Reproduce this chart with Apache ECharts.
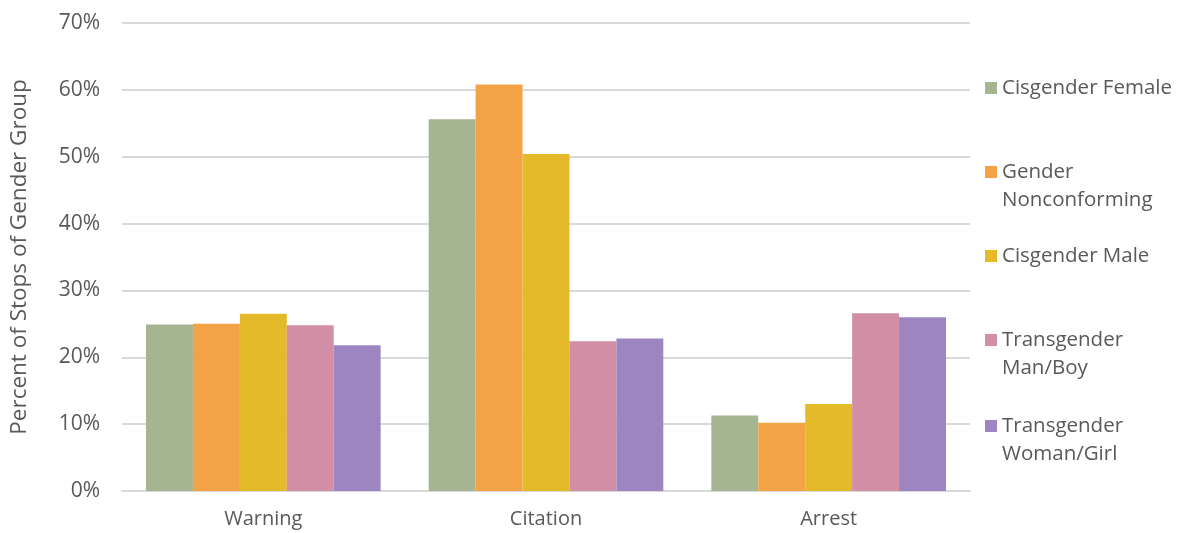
<!DOCTYPE html>
<html>
<head>
<meta charset="utf-8">
<script src="https://cdn.jsdelivr.net/npm/echarts@6/dist/echarts.min.js"></script>
<style>html,body{margin:0;padding:0;background:#fff;}#c{width:1188px;height:533px;}</style>
</head>
<body>
<div id="c"></div>
<script>
const categories = ['Warning', 'Citation', 'Arrest'];
const seriesNames = ['Cisgender Female', 'Gender Nonconforming', 'Cisgender Male', 'Transgender Man/Boy', 'Transgender Woman/Girl'];
const legendLabels = ['Cisgender Female', 'Gender\nNonconforming', 'Cisgender Male', 'Transgender\nMan/Boy', 'Transgender\nWoman/Girl'];
const cisFemale = [24.9, 55.6, 11.3];
const genderNonconf = [25.0, 60.8, 10.2];
const cisMale = [26.5, 50.4, 13.0];
const transMan = [24.8, 22.4, 26.6];
const transWoman = [21.8, 22.8, 26.0];
const yTicks = [0, 10, 20, 30, 40, 50, 60, 70];
const colors = ['#A5B491', '#F3A346', '#E5BA2A', '#D18EA5', '#9C85C1'];
const values = [cisFemale, genderNonconf, cisMale, transMan, transWoman];

const font = 'Open Sans';
const txt = '#595959';
const legendIconY = [88, 172, 256, 340, 426];

const legends = seriesNames.map((n, i) => {
  const twoLine = legendLabels[i].indexOf('\n') >= 0;
  return {
    data: [n],
    orient: 'vertical',
    left: 985,
    top: twoLine ? legendIconY[i] - 42 : legendIconY[i] - 14,
    itemWidth: 12,
    itemHeight: 12,
    itemGap: 0,
    padding: 0,
    icon: 'rect',
    selectedMode: false,
    formatter: () => twoLine ? ' \n' + legendLabels[i] : legendLabels[i],
    textStyle: {fontFamily: font, fontSize: 20.5, color: txt, lineHeight: 28}
  };
});

const chart = echarts.init(document.getElementById('c'), null, {renderer: 'canvas'});
chart.setOption({
  animation: false,
  color: colors,
  legend: legends,
  grid: {left: 122, right: 218, top: 23, bottom: 42, containLabel: false, outerBoundsMode: 'none'},
  xAxis: {
    type: 'category',
    data: categories,
    axisLine: {lineStyle: {color: '#d9d9d9', width: 2}},
    axisTick: {show: false},
    axisLabel: {fontFamily: font, fontSize: 20, color: txt, margin: 18}
  },
  yAxis: {
    type: 'value',
    min: 0, max: 70, interval: 10,
    name: 'Percent of Stops of Gender Group',
    nameLocation: 'middle',
    nameGap: 91,
    nameTextStyle: {fontFamily: font, fontSize: 22.5, color: txt},
    axisLine: {show: false},
    axisTick: {show: false},
    splitLine: {lineStyle: {color: '#d9d9d9', width: 2}},
    axisLabel: {
      fontFamily: font, fontSize: 21, color: txt, margin: 22,
      formatter: v => yTicks.indexOf(v) >= 0 ? v + '%' : ''
    }
  },
  series: seriesNames.map((n, i) => ({
    name: n,
    type: 'bar',
    data: values[i],
    barGap: '0%',
    barCategoryGap: '17%',
    itemStyle: {color: colors[i]}
  }))
});
</script>
</body>
</html>
